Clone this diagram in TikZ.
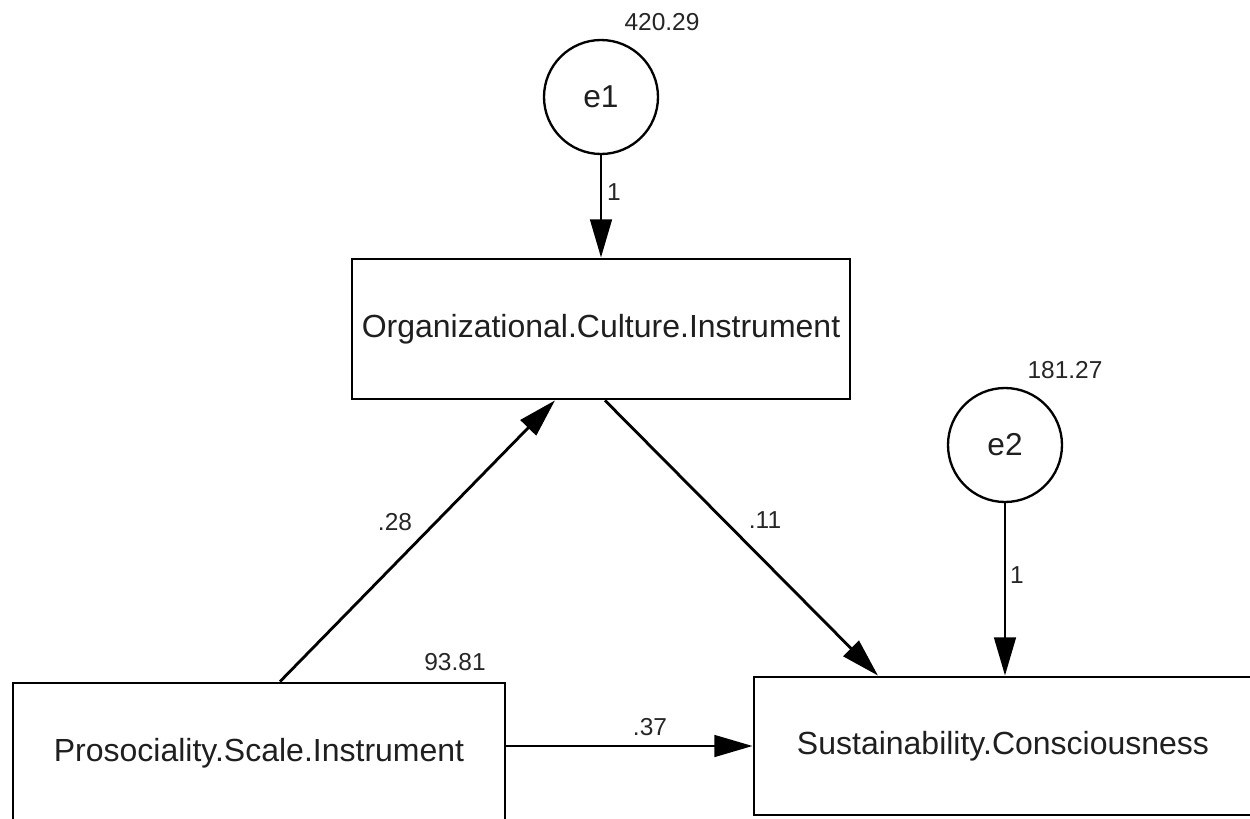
\documentclass[tikz,border=0pt]{standalone}
\usepackage{fontspec}
\setmainfont{Liberation Sans}
\usetikzlibrary{arrows.meta}
\begin{document}
\begin{tikzpicture}[x=0.6pt,y=-0.6pt,
  line width=1.7pt,
  boxnode/.style={draw, rectangle, minimum width=298.8pt, minimum height=84pt, inner sep=0pt, font=\fontsize{19.2}{21}\selectfont, text=black!88},
  errnode/.style={draw, circle, minimum size=68.4pt, inner sep=0pt, line width=1.4pt, font=\fontsize{19}{21}\selectfont, text=black!88},
  lab/.style={inner sep=1pt, font=\fontsize{14.7}{16}\selectfont, text=black!85},
  path/.style={-{Triangle[length=23pt,width=13pt]}}
]
\clip (0,0) rectangle (1250,819);
\fill[white] (0,0) rectangle (1250,819);
% nodes
\node[boxnode] (oci) at (601,329) {Organizational.Culture.Instrument};
\node[boxnode, minimum width=295.2pt] (psi) at (259,753) {Prosociality.Scale.Instrument};
\node[boxnode, minimum height=82.8pt] (sc) at (1003,746) {Sustainability.Consciousness};
\node[errnode] (e1) at (601,97) {e1};
\node[errnode] (e2) at (1005,445) {e2};
% variance labels
\node[lab] (v1) at (662,22) {420.29};
\node[lab] (v2) at (1065,370) {181.27};
\node[lab] (v3) at (455,662) {93.81};
% connectors
\draw[path] (e1.south) -- (oci.north);
\draw[path] (e2.south) -- (e2.south |- sc.north);
\draw[path] ([xshift=12.6pt]psi.north) -- ([xshift=-27.6pt]oci.south);
\draw[path] ([xshift=2.4pt]oci.south) -- ([xshift=-75pt]sc.north);
\draw[path] (psi.east |- sc.west) -- (sc.west);
% path labels
\node[lab] (l1) at (614,192) {1};
\node[lab] (l2) at (1017,575) {1};
\node[lab] (l3) at (395,522) {.28};
\node[lab] (l4) at (765,520) {.11};
\node[lab] (l5) at (650,727) {.37};
\end{tikzpicture}
\end{document}
